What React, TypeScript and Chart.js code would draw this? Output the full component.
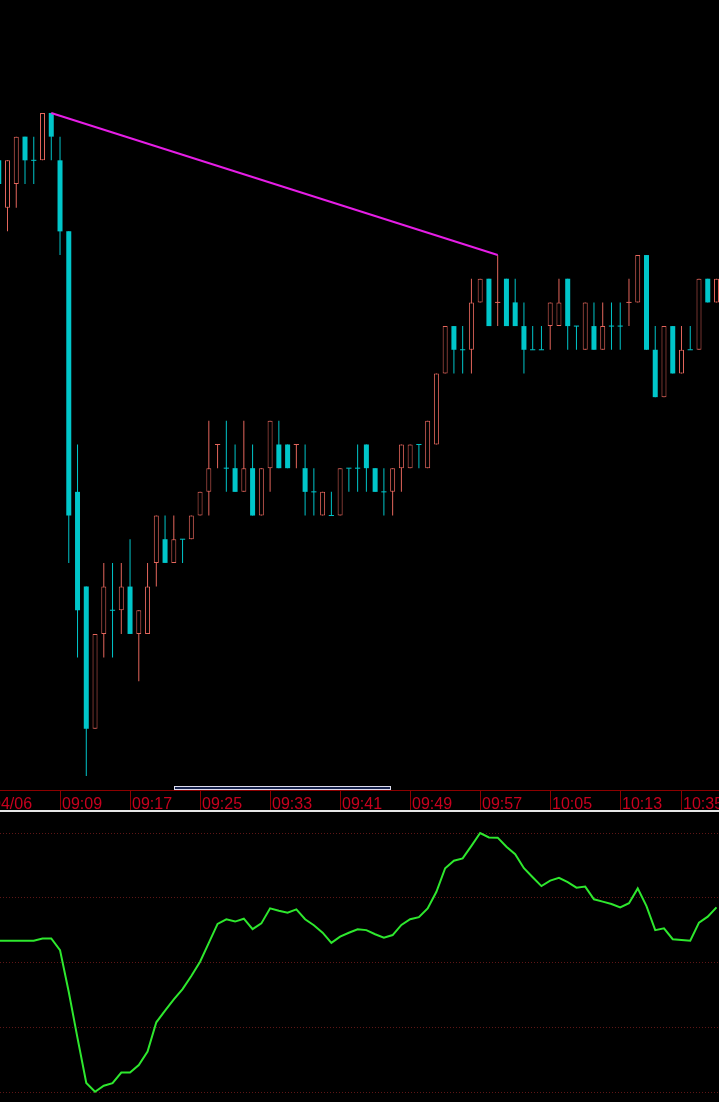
import React, { useEffect, useRef } from 'react';
import { Chart, registerables } from 'chart.js';

Chart.register(...registerables);

// ---------- data ----------
// one-minute candles, 09:02 .. 10:38 (with the 10:15-10:30 break)
const opens = [
  3588, 3586, 3587, 3589, 3588, 3588, 3590, 3588, 3585, 3574,
  3570, 3564, 3568, 3569, 3569, 3570, 3568, 3568, 3571, 3572,
  3571, 3572, 3572, 3573, 3574, 3576, 3575, 3575, 3574, 3575,
  3573, 3575, 3576, 3576, 3576, 3575, 3574, 3573, 3573, 3573,
  3575, 3575, 3576, 3575, 3574, 3574, 3575, 3575, 3576, 3575,
  3576, 3579, 3581, 3580, 3580, 3582, 3583, 3582, 3583, 3582,
  3581, 3580, 3580, 3581, 3581, 3583, 3581, 3580, 3581, 3580,
  3581, 3581, 3582, 3582, 3584, 3580, 3578, 3581, 3579, 3580,
  3580, 3583, 3582,
];
const highs = [
  3588, 3588, 3589, 3589, 3589, 3590, 3590, 3589, 3585, 3576,
  3570, 3568, 3571, 3571, 3571, 3572, 3569, 3571, 3573, 3573,
  3573, 3572, 3573, 3574, 3577, 3576, 3577, 3576, 3577, 3576,
  3575, 3577, 3577, 3576, 3576, 3576, 3575, 3574, 3574, 3575,
  3575, 3576, 3576, 3575, 3575, 3575, 3576, 3576, 3576, 3577,
  3579, 3581, 3581, 3581, 3583, 3583, 3583, 3584, 3583, 3583,
  3582, 3581, 3581, 3582, 3583, 3583, 3581, 3582, 3582, 3582,
  3582, 3582, 3583, 3584, 3584, 3581, 3581, 3581, 3581, 3581,
  3583, 3583, 3583,
];
const lows = [
  3587, 3585, 3586, 3587, 3587, 3588, 3588, 3584, 3571, 3567,
  3562, 3564, 3567, 3567, 3568, 3568, 3566, 3568, 3570, 3571,
  3571, 3571, 3572, 3573, 3573, 3575, 3574, 3574, 3574, 3573,
  3573, 3574, 3575, 3575, 3575, 3573, 3573, 3573, 3573, 3573,
  3574, 3574, 3574, 3574, 3573, 3573, 3574, 3575, 3575, 3575,
  3576, 3579, 3579, 3579, 3579, 3582, 3581, 3581, 3581, 3581,
  3579, 3580, 3580, 3580, 3581, 3580, 3580, 3580, 3580, 3580,
  3580, 3580, 3581, 3582, 3580, 3578, 3578, 3579, 3579, 3580,
  3580, 3582, 3582,
];
const closes = [
  3587, 3588, 3589, 3588, 3588, 3590, 3589, 3585, 3573, 3569,
  3564, 3568, 3570, 3569, 3570, 3568, 3569, 3570, 3573, 3571,
  3572, 3572, 3573, 3574, 3575, 3576, 3575, 3574, 3575, 3573,
  3575, 3577, 3575, 3575, 3576, 3574, 3574, 3574, 3573, 3575,
  3575, 3575, 3575, 3574, 3574, 3575, 3576, 3576, 3576, 3577,
  3579, 3581, 3580, 3580, 3582, 3583, 3581, 3582, 3581, 3581,
  3580, 3580, 3580, 3582, 3582, 3581, 3581, 3582, 3580, 3581,
  3581, 3581, 3582, 3584, 3580, 3578, 3581, 3579, 3580, 3580,
  3583, 3582, 3583,
];

// oscillator in the lower panel (0..100)
const osc = [
  58.4, 58.4, 58.4, 58.4, 58.4, 59.3, 59.3, 54.8, 38.6, 20.8,
  3.5, 0.1, 2.4, 3.4, 7.5, 7.5, 10.4, 15.6, 26.9, 31.4,
  35.8, 39.7, 44.8, 50.3, 57.6, 64.9, 66.7, 65.8, 66.9, 62.9,
  65.1, 70.9, 70.0, 69.2, 70.5, 66.7, 64.4, 61.5, 57.6, 60.0,
  61.5, 62.8, 62.5, 60.9, 59.6, 60.6, 64.5, 66.7, 67.5, 70.9,
  77.3, 86.4, 89.3, 90.2, 95.0, 100, 98.3, 98.2, 94.7, 91.8,
  86.4, 82.9, 79.5, 81.6, 82.7, 81.0, 78.9, 79.3, 74.4, 73.5,
  72.6, 71.3, 72.9, 78.6, 71.8, 62.5, 63.2, 59.0, 58.7, 58.4,
  65.4, 67.7, 71.3,
];

// trend line: candle index and price of its two ends
const trendIdx = [6, 57];
const trendPrice = [3590, 3584];

// time axis
const tickIndex = [-1, 7, 15, 23, 31, 39, 47, 55, 63, 71, 78];
const tickLabels = ['04/06', '09:09', '09:17', '09:25', '09:33', '09:41', '09:49', '09:57', '10:05', '10:13', '10:35'];

// ---------- look ----------
const TEAL = '#00c6ca';
const REDC = '#e4665c';
const MAGENTA = '#e61ee6';
const LABEL_RED = '#c8001e';
const AXIS_RED = '#8c0000';
const GREEN = '#2ee82e';
const GRID_RED = '#5e1616';

const W = 719;
const MAIN_H = 812;
const OSC_H = 290;
const X_MIN = 0.1428;
const X_MAX = 82.285;
const Y_MIN = 3561.41;
const Y_MAX = 3594.77;

const isDoji = (i: number) => opens[i] === closes[i];
const isUp = (i: number) =>
  isDoji(i) ? i > 0 && closes[i] > closes[i - 1] : closes[i] > opens[i];
const candleColor = (i: number) => (isUp(i) ? REDC : TEAL);

const bgPlugin = {
  id: 'bg',
  beforeDraw(chart: any) {
    const ctx = chart.ctx;
    ctx.save();
    ctx.fillStyle = '#000';
    ctx.fillRect(0, 0, chart.width, chart.height);
    ctx.restore();
  },
};

const axisDecor = {
  id: 'axisDecor',
  afterDraw(chart: any) {
    const ctx = chart.ctx;
    const xs = chart.scales.x;
    const base = chart.chartArea.bottom;
    ctx.save();
    ctx.font = '16px "Liberation Sans", Arial, sans-serif';
    ctx.fillStyle = LABEL_RED;
    ctx.textAlign = 'left';
    ctx.textBaseline = 'alphabetic';
    tickIndex.forEach((v, k) => {
      ctx.fillText(tickLabels[k], Math.round(xs.getPixelForValue(v)) + 2, base + 19);
    });
    // separator line between panels
    ctx.fillStyle = '#e6e6e6';
    ctx.fillRect(0, base + 20, chart.width, 2);
    // scroll bar
    ctx.fillStyle = '#16224c';
    ctx.fillRect(175, base - 3, 215, 2);
    ctx.strokeStyle = '#dcdcec';
    ctx.lineWidth = 1;
    ctx.strokeRect(174.5, base - 3.5, 216, 3);
    ctx.restore();
  },
};

export default function App() {
  const mainRef = useRef<HTMLCanvasElement>(null);
  const oscRef = useRef<HTMLCanvasElement>(null);

  useEffect(() => {
    document.body.style.margin = '0';
    document.body.style.background = '#000';

    const idx = opens.map((_, i) => i);
    const bodyData = idx.filter((i) => !isDoji(i)).map((i) => ({ x: i, y: [opens[i], closes[i]] }));
    const wickData = idx.map((i) => ({ x: i, y: [lows[i], highs[i]] }));
    const dojiData = idx.filter((i) => isDoji(i)).map((i) => ({ x: i, y: closes[i] }));
    const trendData = trendIdx.map((x, k) => ({ x, y: trendPrice[k] }));
    const rawIdx = (ctx: any) => (ctx && ctx.raw ? ctx.raw.x : 0);

    const main = new Chart(mainRef.current as HTMLCanvasElement, {
      type: 'bar',
      data: {
        datasets: [
          {
            type: 'line',
            data: trendData,
            borderColor: MAGENTA,
            borderWidth: 2,
            pointRadius: 0,
            order: 0,
          } as any,
          {
            type: 'line',
            data: dojiData,
            showLine: false,
            pointStyle: 'line',
            pointRadius: 2.6,
            pointBorderWidth: 1,
            pointBorderColor: (c: any) => candleColor(rawIdx(c)),
            order: 1,
          } as any,
          {
            type: 'bar',
            data: bodyData,
            barThickness: 5,
            grouped: false,
            borderSkipped: false,
            inflateAmount: 0,
            backgroundColor: (c: any) => (isUp(rawIdx(c)) ? '#000' : TEAL),
            borderColor: REDC,
            borderWidth: (c: any) => (isUp(rawIdx(c)) ? 1 : 0),
            order: 2,
          } as any,
          {
            type: 'bar',
            data: wickData,
            barThickness: 1,
            grouped: false,
            borderSkipped: false,
            inflateAmount: 0,
            borderWidth: 0,
            backgroundColor: (c: any) => candleColor(rawIdx(c)),
            order: 3,
          } as any,
        ],
      },
      options: {
        responsive: false,
        animation: false,
        devicePixelRatio: 1,
        events: [],
        layout: { padding: 0, autoPadding: false },
        plugins: { legend: { display: false }, tooltip: { enabled: false } },
        scales: {
          x: {
            type: 'linear',
            min: X_MIN,
            max: X_MAX,
            offset: false,
            position: 'bottom',
            afterBuildTicks: (s: any) => {
              s.ticks = tickIndex.map((v) => ({ value: v }));
            },
            afterFit: (s: any) => {
              s.height = 22;
            },
            grid: {
              display: true,
              offset: false,
              drawOnChartArea: false,
              drawTicks: true,
              tickLength: 20,
              color: AXIS_RED,
              lineWidth: 1,
            },
            border: { display: true, color: AXIS_RED, width: 1 },
            ticks: { display: false },
          },
          y: { type: 'linear', min: Y_MIN, max: Y_MAX, display: false },
        },
      } as any,
      plugins: [bgPlugin, axisDecor],
    });

    const lower = new Chart(oscRef.current as HTMLCanvasElement, {
      type: 'line',
      data: {
        datasets: [
          {
            data: osc.map((y, i) => ({ x: i, y })),
            borderColor: GREEN,
            borderWidth: 2,
            pointRadius: 0,
            tension: 0,
            clip: 4,
          } as any,
        ],
      },
      options: {
        responsive: false,
        animation: false,
        devicePixelRatio: 1,
        events: [],
        layout: { padding: { top: 21, bottom: 10, left: 0, right: 0 }, autoPadding: false },
        plugins: { legend: { display: false }, tooltip: { enabled: false } },
        scales: {
          x: { type: 'linear', min: X_MIN, max: X_MAX, display: false },
          y: {
            type: 'linear',
            min: 0,
            max: 100,
            ticks: { display: false, stepSize: 25 },
            grid: { color: GRID_RED, drawTicks: false, lineWidth: 1 },
            border: { display: false, dash: [1, 2] },
            afterFit: (s: any) => {
              s.width = 0;
            },
          },
        },
      } as any,
      plugins: [bgPlugin],
    });

    return () => {
      main.destroy();
      lower.destroy();
    };
  }, []);

  return (
    <div style={{ width: W, background: '#000' }}>
      <canvas ref={mainRef} width={W} height={MAIN_H} style={{ display: 'block' }} />
      <canvas ref={oscRef} width={W} height={OSC_H} style={{ display: 'block' }} />
    </div>
  );
}
